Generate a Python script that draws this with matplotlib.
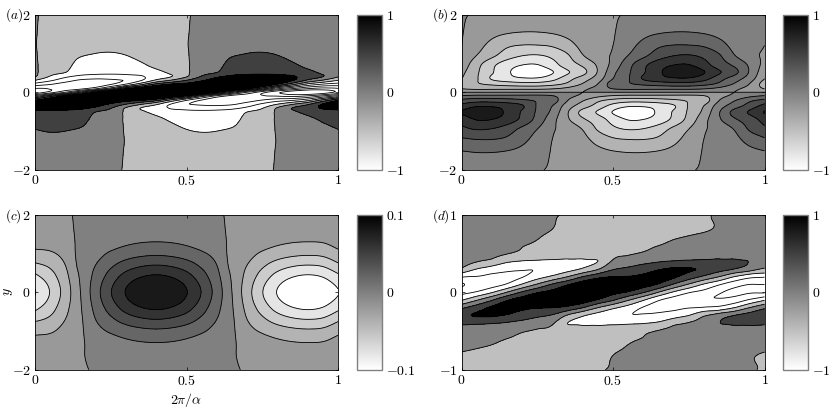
import numpy as np
import matplotlib
matplotlib.use('Agg')
import matplotlib.pyplot as plt
from matplotlib.cm import ScalarMappable
from matplotlib.colors import Normalize

plt.rcParams['mathtext.fontset'] = 'cm'
plt.rcParams['font.family'] = ['cmr10', 'DejaVu Serif']
plt.rcParams['axes.formatter.use_mathtext'] = True

W, H = 830, 409

# x positions of the columns, the same for all panels
x_cols = [0, .05, .1, .15, .2, .25, .3, .35, .4, .45, .5, .55, .6, .65, .7, .75, .8, .85, .9, .95, 1]

# panel (a), values in hundredths
a_rows = [-2, -1.5, -1.2, -1, -.85, -.7, -.6, -.5, -.4, -.3, -.2, -.1, 0, .1, .2, .3, .4, .5, .6, .7, .85, 1, 1.2, 1.5, 2]
a_vals = [
    [9, 10, 9, 8, 5, 3, -1, -3, -5, -7, -9, -10, -9, -8, -5, -3, 1, 3, 5, 7, 9],
    [20, 22, 20, 18, 10, 6, -1, -5, -10, -15, -20, -22, -20, -18, -10, -6, 1, 5, 10, 15, 20],
    [34, 38, 36, 30, 17, 9, -1, -9, -16, -25, -34, -38, -36, -30, -17, -9, 1, 9, 16, 25, 34],
    [47, 52, 50, 42, 24, 12, -2, -12, -22, -35, -47, -52, -50, -42, -24, -12, 2, 12, 22, 35, 47],
    [57, 62, 60, 55, 30, 15, -3, -17, -30, -45, -57, -62, -60, -55, -30, -15, 3, 17, 30, 45, 57],
    [68, 72, 70, 65, 37, 20, -5, -25, -40, -56, -68, -72, -70, -65, -37, -20, 5, 25, 40, 56, 68],
    [77, 80, 78, 72, 42, 25, -6, -33, -50, -65, -77, -80, -78, -72, -42, -25, 6, 33, 50, 65, 77],
    [90, 92, 90, 85, 52, 35, -8, -42, -63, -82, -90, -92, -90, -85, -52, -35, 8, 42, 63, 82, 90],
    [115, 120, 120, 112, 92, 55, -2, -50, -80, -105, -115, -120, -120, -112, -92, -55, 2, 50, 80, 105, 115],
    [145, 160, 170, 160, 130, 95, 55, 10, -35, -100, -145, -160, -170, -160, -130, -95, -55, -10, 35, 100, 145],
    [90, 150, 185, 185, 175, 150, 125, 110, 70, -10, -90, -150, -185, -185, -175, -150, -125, -110, -70, 10, 90],
    [-80, 30, 120, 175, 185, 195, 200, 210, 190, 140, 80, -30, -120, -175, -185, -195, -200, -210, -190, -140, -80],
    [-240, -180, -100, 0, 100, 180, 240, 280, 300, 280, 240, 180, 100, 0, -100, -180, -240, -280, -300, -280, -240],
    [-200, -195, -185, -175, -120, -30, 80, 140, 190, 210, 200, 195, 185, 175, 120, 30, -80, -140, -190, -210, -200],
    [-125, -150, -175, -185, -185, -150, -90, -10, 70, 110, 125, 150, 175, 185, 185, 150, 90, 10, -70, -110, -125],
    [-55, -95, -130, -160, -170, -160, -145, -100, -35, 10, 55, 95, 130, 160, 170, 160, 145, 100, 35, -10, -55],
    [2, -55, -92, -112, -120, -120, -115, -105, -80, -50, -2, 55, 92, 112, 120, 120, 115, 105, 80, 50, 2],
    [8, -35, -52, -85, -90, -92, -90, -82, -63, -42, -8, 35, 52, 85, 90, 92, 90, 82, 63, 42, 8],
    [6, -25, -42, -72, -78, -80, -77, -65, -50, -33, -6, 25, 42, 72, 78, 80, 77, 65, 50, 33, 6],
    [5, -20, -37, -65, -70, -72, -68, -56, -40, -25, -5, 20, 37, 65, 70, 72, 68, 56, 40, 25, 5],
    [3, -15, -30, -55, -60, -62, -57, -45, -30, -17, -3, 15, 30, 55, 60, 62, 57, 45, 30, 17, 3],
    [2, -12, -24, -42, -50, -52, -47, -35, -22, -12, -2, 12, 24, 42, 50, 52, 47, 35, 22, 12, 2],
    [1, -9, -17, -30, -36, -38, -34, -25, -16, -9, -1, 9, 17, 30, 36, 38, 34, 25, 16, 9, 1],
    [1, -6, -10, -18, -20, -22, -20, -15, -10, -5, -1, 6, 10, 18, 20, 22, 20, 15, 10, 5, 1],
    [1, -3, -5, -8, -9, -10, -9, -7, -5, -3, -1, 3, 5, 8, 9, 10, 9, 7, 5, 3, 1],
]

# panel (b), values in hundredths
b_rows = [-2, -1.55, -1.2, -.95, -.7, -.5, -.35, -.2, -.1, 0, .1, .2, .35, .5, .7, .95, 1.2, 1.55, 2]
b_vals = [
    [5, 6, 6, 5, 3, 1, -1, -1, -2, -3, -5, -6, -6, -5, -3, -1, 1, 1, 2, 3, 5],
    [18, 20, 20, 18, 14, 7, -1, -4, -9, -14, -18, -20, -20, -18, -14, -7, 1, 4, 9, 14, 18],
    [38, 41, 41, 37, 26, 13, 0, -4, -14, -28, -38, -41, -41, -37, -26, -13, 0, 4, 14, 28, 38],
    [55, 61, 59, 50, 35, 20, 2, -5, -21, -42, -55, -61, -59, -50, -35, -20, -2, 5, 21, 42, 55],
    [68, 81, 80, 71, 55, 33, 7, -17, -37, -50, -68, -81, -80, -71, -55, -33, -7, 17, 37, 50, 68],
    [81, 93, 90, 76, 58, 37, 15, -18, -46, -62, -81, -93, -90, -76, -58, -37, -15, 18, 46, 62, 81],
    [67, 77, 77, 72, 62, 38, 20, -10, -30, -48, -67, -77, -77, -72, -62, -38, -20, 10, 30, 48, 67],
    [44, 49, 49, 46, 42, 37, 30, 1, -17, -34, -44, -49, -49, -46, -42, -37, -30, -1, 17, 34, 44],
    [23, 26, 26, 26, 26, 26, 22, 5, -4, -16, -23, -26, -26, -26, -26, -26, -22, -5, 4, 16, 23],
    [0] * 21,
    [-22, -26, -26, -26, -26, -26, -23, -16, -4, 5, 22, 26, 26, 26, 26, 26, 23, 16, 4, -5, -22],
    [-30, -37, -42, -46, -49, -49, -44, -34, -17, 1, 30, 37, 42, 46, 49, 49, 44, 34, 17, -1, -30],
    [-20, -38, -62, -72, -77, -77, -67, -48, -30, -10, 20, 38, 62, 72, 77, 77, 67, 48, 30, 10, -20],
    [-15, -37, -58, -76, -90, -93, -81, -62, -46, -18, 15, 37, 58, 76, 90, 93, 81, 62, 46, 18, -15],
    [-7, -33, -55, -71, -80, -81, -68, -50, -37, -17, 7, 33, 55, 71, 80, 81, 68, 50, 37, 17, -7],
    [-2, -20, -35, -50, -59, -61, -55, -42, -21, -5, 2, 20, 35, 50, 59, 61, 55, 42, 21, 5, -2],
    [0, -13, -26, -37, -41, -41, -38, -28, -14, -4, 0, 13, 26, 37, 41, 41, 38, 28, 14, 4, 0],
    [1, -7, -14, -18, -20, -20, -18, -14, -9, -4, -1, 7, 14, 18, 20, 20, 18, 14, 9, 4, 1],
    [1, -1, -3, -5, -6, -6, -5, -3, -2, -1, -1, 1, 3, 5, 6, 6, 5, 3, 2, 1, 1],
]

# panel (c), values in thousandths
c_rows = [-2, -1.6, -1.3, -.95, -.7, -.45, 0, .45, .7, .95, 1.3, 1.6, 2]
c_vals = [
    [-4, -3, -1, -1, 1, 3, 4, 5, 5, 5, 4, 3, 1, 1, -1, -3, -4, -5, -5, -5, -4],
    [-7, -6, -3, -1, 3, 6, 8, 9, 10, 9, 8, 6, 3, 1, -3, -6, -8, -9, -10, -9, -7],
    [-13, -11, -6, -2, 6, 11, 16, 19, 20, 19, 16, 11, 6, 2, -6, -11, -16, -19, -20, -19, -13],
    [-28, -25, -14, -3, 14, 25, 33, 38, 40, 38, 33, 25, 14, 3, -14, -25, -33, -38, -40, -38, -28],
    [-44, -36, -20, -3, 20, 36, 49, 57, 60, 57, 49, 36, 20, 3, -20, -36, -49, -57, -60, -57, -44],
    [-62, -47, -25, -2, 25, 47, 65, 76, 80, 76, 65, 47, 25, 2, -25, -47, -65, -76, -80, -76, -62],
    [-81, -59, -31, 0, 31, 59, 81, 95, 100, 95, 81, 59, 31, 0, -31, -59, -81, -95, -100, -95, -81],
    [-62, -47, -25, 3, 25, 47, 65, 76, 80, 76, 65, 47, 25, -3, -25, -47, -65, -76, -80, -76, -62],
    [-44, -36, -20, 6, 20, 36, 49, 57, 60, 57, 49, 36, 20, -6, -20, -36, -49, -57, -60, -57, -44],
    [-28, -25, -14, 6, 14, 25, 33, 38, 40, 38, 33, 25, 14, -6, -14, -25, -33, -38, -40, -38, -28],
    [-13, -11, -6, 3, 6, 11, 16, 19, 20, 19, 16, 11, 6, -3, -6, -11, -16, -19, -20, -19, -13],
    [-7, -6, -3, 2, 3, 6, 8, 9, 10, 9, 8, 6, 3, -2, -3, -6, -8, -9, -10, -9, -7],
    [-4, -3, -1, 1, 1, 3, 4, 5, 5, 5, 4, 3, 1, -1, -1, -3, -4, -5, -5, -5, -4],
]

# panel (d), values in hundredths
d_rows = [-1, -.75, -.6, -.5, -.4, -.3, -.2, -.1, 0, .1, .2, .3, .4, .5, .6, .75, 1]
d_vals = [
    [-1, -2, -3, -4, -5, -5, -5, -4, -3, -1, 1, 3, 5, 6, 7, 8, 8, 5, 3, 1, -1],
    [1, -1, -3, -5, -7, -8, -9, -9, -8, -6, -2, 2, 5, 7, 8, 9, 10, 8, 5, 3, 1],
    [13, 10, 6, 0, -3, -6, -10, -14, -16, -16, -12, -5, 1, 3, 6, 8, 10, 12, 14, 14, 13],
    [32, 28, 20, 12, 3, -4, -10, -20, -30, -33, -30, -20, -8, 2, 4, 6, 8, 22, 30, 33, 32],
    [56, 55, 52, 45, 35, 20, 5, -50, -55, -56, -56, -55, -52, -42, -8, 3, 10, 48, 55, 56, 56],
    [95, 104, 106, 96, 75, 60, 45, -5, -45, -68, -90, -97, -95, -88, -75, -50, -5, 25, 50, 68, 95],
    [40, 75, 108, 115, 110, 102, 100, 85, 50, 0, -40, -70, -103, -112, -110, -102, -95, -85, -50, 0, 40],
    [-55, -5, 45, 95, 120, 135, 145, 145, 130, 95, 55, 5, -45, -95, -120, -135, -145, -145, -130, -95, -55],
    [-115, -95, -55, 0, 55, 95, 115, 145, 160, 145, 115, 95, 55, 0, -55, -95, -115, -145, -160, -155, -155],
    [-155, -135, -120, -95, -45, 5, 55, 95, 130, 145, 145, 135, 120, 95, 45, -5, -55, -95, -130, -150, -150],
    [-95, -102, -110, -112, -103, -70, -40, 0, 50, 85, 100, 102, 110, 115, 108, 75, 40, 0, -50, -85, -95],
    [-5, -50, -75, -88, -95, -97, -90, -68, -45, -5, 45, 60, 75, 96, 106, 104, 95, 68, 50, 25, -5],
    [10, 3, -8, -42, -52, -55, -56, -56, -55, -50, 5, 20, 35, 45, 52, 55, 56, 56, 55, 48, 10],
    [8, 6, 4, 2, -8, -20, -30, -33, -30, -20, -10, -4, 3, 12, 20, 28, 32, 33, 30, 22, 8],
    [10, 8, 6, 3, 1, -5, -12, -16, -16, -14, -10, -6, -3, 0, 6, 10, 13, 14, 14, 12, 10],
    [10, 9, 8, 7, 5, 2, -2, -6, -8, -9, -9, -8, -7, -5, -3, -1, 1, 3, 5, 8, 10],
    [8, 8, 7, 6, 5, 3, 1, -1, -3, -4, -5, -5, -5, -4, -3, -2, -1, 1, 3, 5, 8],
]

# contour levels
a_levels = np.arange(-4, 4.01, .5)
b_levels = np.arange(-1.4, 1.41, .2)
c_levels = np.arange(-.14, .141, .02)

fig = plt.figure(figsize=(W / 100, H / 100), dpi=100)


def hermite(nodes, vals, q):
    # cubic through the table along axis 0, vals may be 2d
    nodes = np.asarray(nodes, dtype=float)
    q = np.clip(q, nodes[0], nodes[-1])
    slope = np.gradient(vals, nodes, axis=0)
    i = np.clip(np.searchsorted(nodes, q, side='right') - 1, 0, len(nodes) - 2)
    h = nodes[i + 1] - nodes[i]
    t = (q - nodes[i]) / h
    if vals.ndim == 2:
        t = t[:, None]
        h = h[:, None]
    return ((1 + 2 * t) * (1 - t) ** 2 * vals[i] + t * (1 - t) ** 2 * h * slope[i]
            + t ** 2 * (3 - 2 * t) * vals[i + 1] + t ** 2 * (t - 1) * h * slope[i + 1])


def resample(rows, vals, scale, ylim, tilt):
    # smooth the coarse table, going along the tilted layer near y=0
    Z = np.array(vals, dtype=float) / scale
    xf = np.linspace(0, 1, 400)
    yf = np.linspace(-ylim, ylim, 500)
    cols = np.array(x_cols)
    plain = hermite(cols, hermite(np.array(rows), Z, yf).T, xf).T
    if tilt == 0:
        return xf, yf, plain
    tilted = np.zeros_like(plain)
    for k, x in enumerate(xf):
        C = np.array([hermite(np.array(rows), Z[:, i], yf + tilt * (cols[i] - x)) for i in range(len(cols))])
        tilted[:, k] = hermite(cols, C, np.array([x]))[0]
    w = np.clip((.85 - np.abs(yf)) / .3, 0, 1)[:, None]
    return xf, yf, w * tilted + (1 - w) * plain


def px_axes(left, right, top, bottom):
    return fig.add_axes([left / W, 1 - bottom / H, (right - left) / W, (bottom - top) / H])


def shade(levels, span):
    # band colour comes from its lower level, as on the colour bar
    return [str(np.clip(.5 - l / (2 * span), 0, 1)) for l in levels[:-1]]


def panel(box, rows, vals, scale, levels, span, ylim, tilt, label):
    ax = px_axes(*box)
    xf, yf, Zf = resample(rows, vals, scale, ylim, tilt)
    ax.contourf(xf, yf, Zf, levels=levels, colors=shade(levels, span))
    ax.contour(xf, yf, Zf, levels=levels, colors='k', linewidths=.6, linestyles='solid')
    ax.set_xlim(0, 1)
    ax.set_ylim(-ylim, ylim)
    ax.set_xticks([0, .5, 1])
    ax.set_xticklabels(['$0$', '$0.5$', '$1$'], fontsize=10)
    ax.set_yticks([-ylim, 0, ylim])
    ax.set_yticklabels(['$-%d$' % ylim, '$0$', '$%d$' % ylim], fontsize=10)
    ax.tick_params(direction='in', top=True, right=True, length=2, width=.5, pad=3)
    for s in ax.spines.values():
        s.set_linewidth(.6)
    fig.text((box[0] - 30) / W, 1 - (box[2] + 1) / H, label, fontsize=9.5, ha='left', va='center')
    return ax


def bar(left, right, top, bottom, span, labels):
    cax = px_axes(left, right, top, bottom)
    sm = ScalarMappable(Normalize(-span, span), 'gray_r')
    cb = fig.colorbar(sm, cax=cax, ticks=[-span, 0, span])
    cb.ax.set_yticklabels(labels, fontsize=10)
    cb.outline.set_edgecolor('#808080')
    cb.outline.set_linewidth(1.0)
    cb.ax.tick_params(direction='in', left=True, right=True, length=2, width=.5, color='#808080', pad=3)


panel((35, 338, 14.5, 170), a_rows, a_vals, 100, a_levels, 1, 2, .8, '$(a)$')
panel((461.5, 764.5, 14.5, 170), b_rows, b_vals, 100, b_levels, 1, 2, 0, '$(b)$')
ax_c = panel((35, 338, 214.7, 369.7), c_rows, c_vals, 1000, c_levels, .1, 2, 0, '$(c)$')
ax_d = panel((461.5, 764.5, 214.7, 369.7), d_rows, d_vals, 100, a_levels, 1, 1, .8, '$(d)$')

bar(357, 381.5, 14.5, 170, 1, ['$-1$', '$0$', '$1$'])
bar(783, 807.5, 14.5, 170, 1, ['$-1$', '$0$', '$1$'])
bar(357, 381.5, 214.7, 369.7, .1, ['$-0.1$', '$0$', '$0.1$'])
bar(783, 807.5, 214.7, 369.7, 1, ['$-1$', '$0$', '$1$'])

ax_c.set_xlabel(r'$2\pi/\alpha$', fontsize=10, labelpad=2)
fig.text(8 / W, 1 - 292 / H, '$y$', fontsize=10, rotation=90, ha='center', va='center')

fig.savefig('out.png', dpi=100)
